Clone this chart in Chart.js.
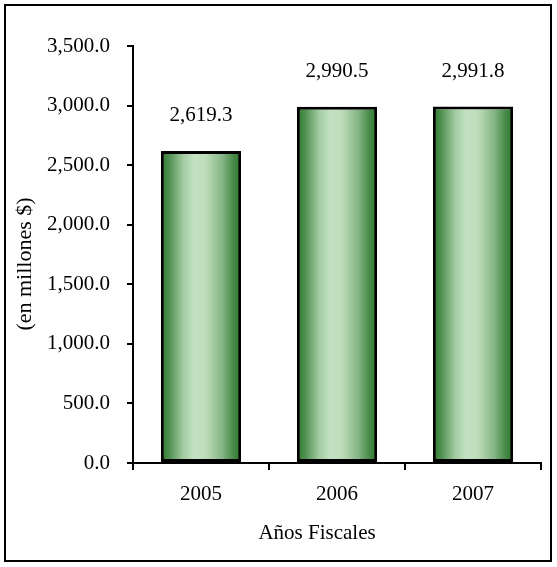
<!DOCTYPE html>
<html>
<head>
<meta charset="utf-8">
<script src="https://cdn.jsdelivr.net/npm/chart.js@4/dist/chart.umd.min.js"></script>
<style>
  body { margin: 0; background: #fff; }
  canvas { display: block; }
</style>
</head>
<body>
<canvas id="fiscalChart" width="557" height="567"></canvas>
<script>
    const years = ['2005', '2006', '2007'];
    const amounts = [2619.3, 2990.5, 2991.8];
    const yTicks = [0, 500, 1000, 1500, 2000, 2500, 3000, 3500];
    const xTitle = 'Años Fiscales';
    const yTitle = '(en millones $)';

    const serif = '"Liberation Serif", "Times New Roman", serif';

    function fmt(v) {
        return v.toLocaleString('en-US', { minimumFractionDigits: 1, maximumFractionDigits: 1 });
    }

    // horizontal green gradient for each bar
    function barGradient(context) {
        const chart = context.chart;
        if (!chart.chartArea) return '#6fa86f';
        const xs = chart.scales.x;
        const cx = xs.getPixelForValue(context.dataIndex);
        const w = xs.width / years.length * 0.59;
        const g = chart.ctx.createLinearGradient(cx - w / 2, 0, cx + w / 2, 0);
        g.addColorStop(0, '#2b7a2b');
        g.addColorStop(0.1, '#4f8f4f');
        g.addColorStop(0.28, '#a3cca2');
        g.addColorStop(0.42, '#c4e2c2');
        g.addColorStop(0.56, '#bddcba');
        g.addColorStop(0.76, '#88b688');
        g.addColorStop(0.9, '#4a8b4a');
        g.addColorStop(1, '#287828');
        return g;
    }

    const frameAndText = {
        id: 'frameAndText',
        beforeDraw(chart) {
            const ctx = chart.ctx;
            ctx.save();
            ctx.fillStyle = '#fff';
            ctx.fillRect(0, 0, chart.width, chart.height);
            ctx.strokeStyle = '#000';
            ctx.lineWidth = 2;
            ctx.strokeRect(5, 5, 546, 556);
            ctx.restore();
        },
        afterDatasetsDraw(chart) {
            const ctx = chart.ctx;
            const meta = chart.getDatasetMeta(0);
            ctx.save();
            ctx.fillStyle = '#000';
            ctx.font = '21px ' + serif;
            ctx.textAlign = 'center';
            ctx.textBaseline = 'middle';
            meta.data.forEach((bar, i) => {
                ctx.fillText(fmt(amounts[i]), bar.x, bar.y - 35);
            });
            // axis titles
            ctx.fillText(xTitle, 317, 533);
            ctx.translate(25, 264);
            ctx.rotate(-Math.PI / 2);
            ctx.font = '22px ' + serif;
            ctx.fillText(yTitle, 0, 0);
            ctx.restore();
        }
    };

    const ctx = document.getElementById('fiscalChart').getContext('2d');
    new Chart(ctx, {
        type: 'bar',
        data: {
            labels: years,
            datasets: [{
                data: amounts,
                backgroundColor: barGradient,
                borderColor: '#000',
                borderWidth: 3,
                borderSkipped: false,
                barPercentage: 0.59,
                categoryPercentage: 1
            }]
        },
        options: {
            responsive: false,
            animation: false,
            layout: { padding: { top: 46, right: 16, bottom: 0, left: 0 } },
            plugins: {
                legend: { display: false },
                tooltip: { enabled: false }
            },
            scales: {
                x: {
                    afterFit: s => { s.height = 104; },
                    border: { color: '#000', width: 2 },
                    grid: { drawOnChartArea: false, drawTicks: true, tickLength: 7, color: '#000', lineWidth: 2 },
                    ticks: { color: '#000', font: { family: serif, size: 21 }, padding: 12 }
                },
                y: {
                    min: 0,
                    max: 3500,
                    afterFit: s => { s.width = 133; },
                    afterBuildTicks: s => { s.ticks = yTicks.map(v => ({ value: v })); },
                    border: { color: '#000', width: 2 },
                    grid: { drawOnChartArea: false, drawTicks: true, tickLength: 6, color: '#000', lineWidth: 2 },
                    ticks: {
                        color: '#000',
                        font: { family: serif, size: 21 },
                        padding: 17,
                        callback: v => fmt(v)
                    }
                }
            }
        },
        plugins: [frameAndText]
    });
</script>
</body>
</html>
